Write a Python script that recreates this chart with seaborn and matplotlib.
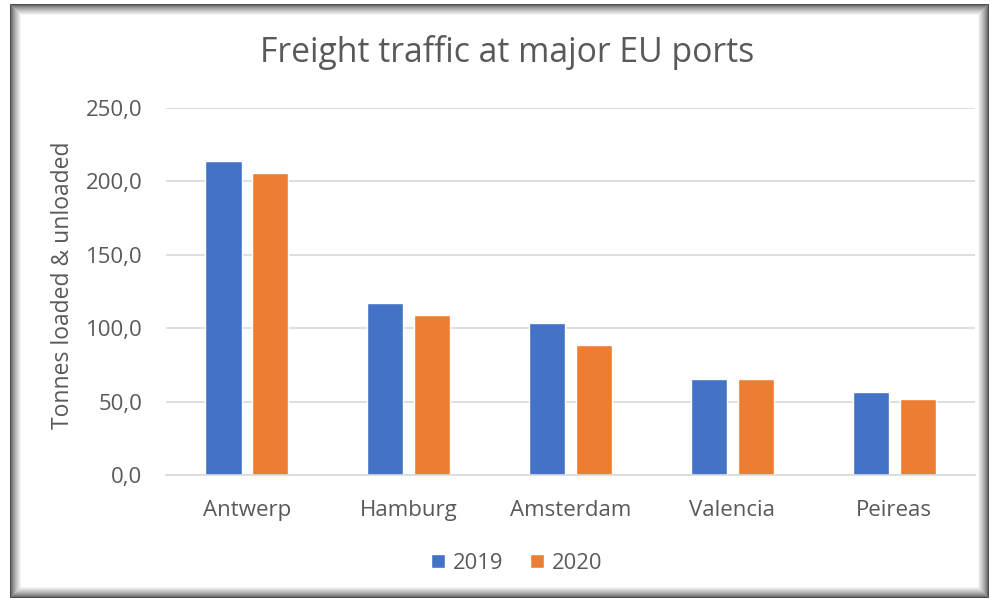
import pandas as pd
import seaborn as sns
import matplotlib.pyplot as plt
from matplotlib.patches import Rectangle

# Data
ports = ["Antwerp", "Hamburg", "Amsterdam", "Valencia", "Peireas"]
years = ["2019", "2020"]
tonnes_2019 = [213.7, 117.0, 103.5, 65.2, 56.3]
tonnes_2020 = [205.9, 108.8, 88.6, 65.2, 51.8]
y_ticks = [0, 50, 100, 150, 200, 250]
y_tick_labels = ["0,0", "50,0", "100,0", "150,0", "200,0", "250,0"]

data = pd.DataFrame({
    "Port": ports * 2,
    "Year": [years[0]] * len(ports) + [years[1]] * len(ports),
    "Tonnes": tonnes_2019 + tonnes_2020,
})

sns.set_style("white")
plt.rcParams["font.family"] = ["Open Sans", "DejaVu Sans"]
text_color = "#595959"

fig = plt.figure(figsize=(9.9, 5.99), dpi=100)
ax = fig.add_axes([0.1677, 0.207, 0.8173, 0.6127])

sns.barplot(data=data, x="Port", y="Tonnes", hue="Year",
            palette=["#4472C4", "#ED7D31"], saturation=1, width=0.58, gap=0.23,
            errorbar=None, ax=ax, legend=True)

ax.set_ylim(0, 250)
ax.set_yticks(y_ticks)
ax.set_yticklabels(y_tick_labels)
ax.yaxis.grid(True, color="#D9D9D9", linewidth=1.2)
ax.set_axisbelow(True)
for side in ["top", "right", "left"]:
    ax.spines[side].set_visible(False)
ax.spines["bottom"].set_color("#D9D9D9")
ax.spines["bottom"].set_linewidth(1.2)
ax.tick_params(axis="both", length=0, labelsize=16, colors=text_color)
ax.tick_params(axis="y", pad=17)
ax.tick_params(axis="x", pad=18)
ax.set_xlabel("")
ax.set_ylabel("Tonnes loaded & unloaded", fontsize=16.5, color=text_color)
ax.yaxis.set_label_coords(-0.127, 0.516)
ax.yaxis.label.set_va("center")

fig.text(0.512, 0.912, "Freight traffic at major EU ports", ha="center", va="center",
         fontsize=24.3, color=text_color)

handles, labels = ax.get_legend_handles_labels()
ax.get_legend().remove()
fig.legend(handles, labels, loc="center", bbox_to_anchor=(0.522, 0.06), ncol=2,
           frameon=False, fontsize=15.8, labelcolor=text_color,
           handlelength=0.65, handleheight=0.65, handletextpad=0.35, columnspacing=1.2)

# shaded frame around the chart
W, H = 990, 599
x0, y0, x1, y1 = 10, 4, 988, 597
for i in range(12):
    shade = 0.3 + 0.7 * (i / 11) ** 0.7
    fig.patches.append(Rectangle(((x0 + i) / W, 1 - (y1 - i) / H),
                                 (x1 - x0 - 2 * i) / W, (y1 - y0 - 2 * i) / H,
                                 transform=fig.transFigure, fill=False,
                                 edgecolor=(shade, shade, shade), linewidth=0.72,
                                 zorder=-1))

fig.savefig("out.png", dpi=100, facecolor="white")
